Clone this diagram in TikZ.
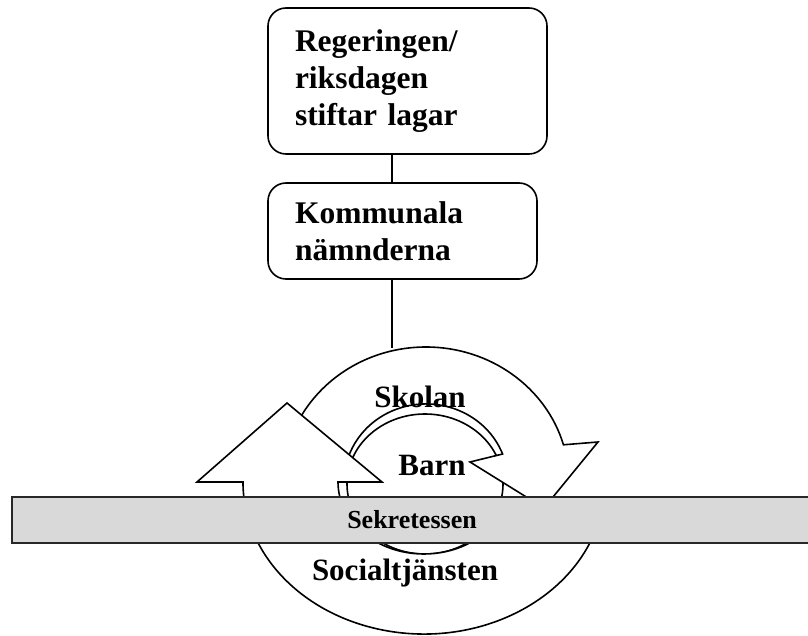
\documentclass[tikz,border=0pt]{standalone}
\usepackage{fontspec}
\setmainfont{Liberation Serif}
\definecolor{barfill}{RGB}{217,217,217}
\definecolor{barline}{RGB}{40,40,40}
\tikzstyle{org}=[draw,rounded corners=18pt,line width=1.6pt,align=left,inner xsep=27pt,font=\bfseries\fontsize{31.5}{37}\selectfont]
\tikzstyle{ring}=[draw,fill=white,line width=1.6pt,line join=miter]
\tikzstyle{lbl}=[font=\bfseries\fontsize{31}{37}\selectfont,inner sep=0pt]

\begin{document}
\begin{tikzpicture}[x=1pt,y=1pt]
    \useasboundingbox (0,0) rectangle (808,635);
    \node[org,text width=225pt,minimum height=146pt] (lag) at (407.5,554) {Regeringen/\\riksdagen\\stiftar lagar};
    \node[org,text width=215pt,minimum height=96pt] (nmd) at (402.5,404) {Kommunala\\nämnderna};
    \coordinate (ringtop) at (392,287);

    % barn, upper arrow, lower arrow
    \draw[line width=1.6pt] (425,151) ellipse [x radius=78, y radius=70];
    \draw[ring] (283,153) arc[start angle=180,end angle=16,x radius=143,y radius=135]
        -- (598,193) -- (544,127) -- (470,173) -- (502.6,181)
        arc[start angle=21,end angle=180,x radius=82,y radius=78] -- cycle;
    \draw[ring] (599.2,114.9) arc[start angle=-14.5,end angle=-180,x radius=181,y radius=152]
        -- (197,153) -- (287,232) -- (382,153) -- (338,153)
        arc[start angle=-180,end angle=-32,x radius=86,y radius=72] -- cycle;

    \node[draw=barline,fill=barfill,line width=2.2pt,minimum width=800pt,minimum height=46pt,
          font=\bfseries\fontsize{26}{30}\selectfont] (bar) at (412,115) {Sekretessen};

    \node[lbl,anchor=base] (skolan) at (420,227) {Skolan};
    \node[lbl,anchor=base] (barn) at (432,160) {Barn};
    \node[lbl,anchor=base] (soc) at (405,55) {Socialtjänsten};

    \draw[line width=1.6pt] (lag.south -| ringtop) -- (nmd.north -| ringtop);
    \draw[line width=1.6pt] (nmd.south -| ringtop) -- (ringtop);
\end{tikzpicture}
\end{document}
